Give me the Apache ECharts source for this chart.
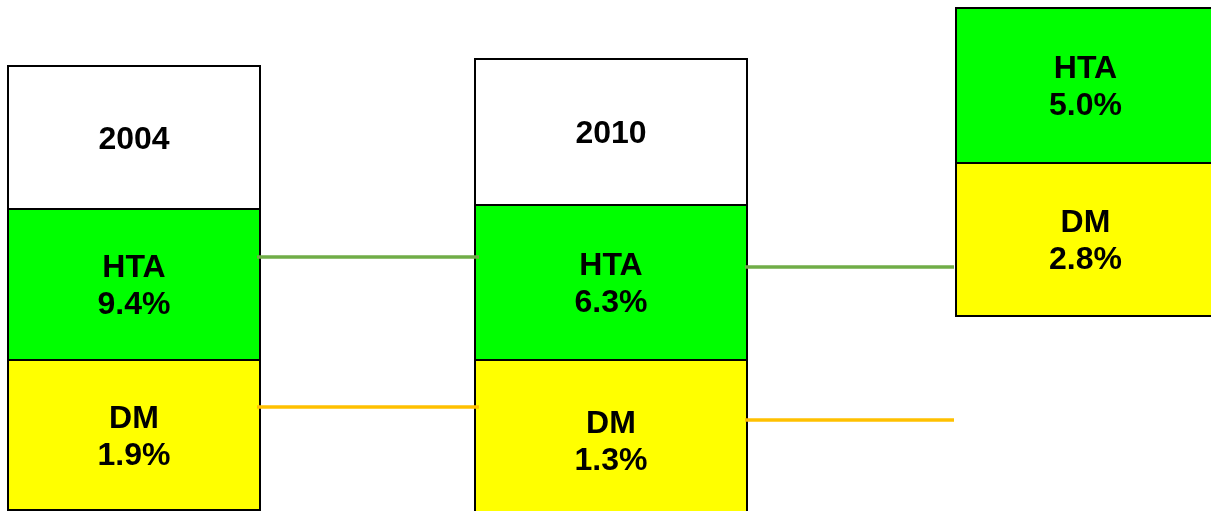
<!DOCTYPE html>
<html>
<head>
<meta charset="utf-8">
<script src="https://cdn.jsdelivr.net/npm/echarts@6/dist/echarts.min.js"></script>
<style>
  html, body { margin: 0; padding: 0; background: #fff; }
  #chart { width: 1211px; height: 511px; }
</style>
</head>
<body>
<div id="chart"></div>
<script>
// values
const years = ['2004', '2010', null];
const htaValues = [9.4, 6.3, 5.0];
const dmValues = [1.9, 1.3, 2.8];

// column layout, in axis units (axis spans the window)
const colLeft = [8, 475, 956];
const colRight = [260, 747, 1215];
const yearTop = [66, 59, null];
const htaTop = [209, 205, 8];
const dmTop = [360, 360, 163];
const dmBottom = [510, 520, 316];

// connector lines between columns
const linkFrom = [257, 745];
const linkTo = [479, 954];
const htaLinkY = [257, 267];
const dmLinkY = [407, 420];

const fills = { year: '#FFFFFF', hta: '#00FF00', dm: '#FFFF00' };

// build segments: [x0, x1, y0, y1], with kind + label kept alongside
const segments = [];
const segKind = [];
const segText = [];
for (let i = 0; i < colLeft.length; i++) {
  if (years[i]) {
    segments.push([colLeft[i], colRight[i], yearTop[i], htaTop[i]]);
    segKind.push('year');
    segText.push(years[i]);
  }
  segments.push([colLeft[i], colRight[i], htaTop[i], dmTop[i]]);
  segKind.push('hta');
  segText.push('HTA\n' + htaValues[i].toFixed(1) + '%');
  segments.push([colLeft[i], colRight[i], dmTop[i], dmBottom[i]]);
  segKind.push('dm');
  segText.push('DM\n' + dmValues[i].toFixed(1) + '%');
}

function linkSeries(ys, color) {
  return ys.map(function (y, i) {
    return {
      type: 'line',
      data: [[linkFrom[i], y], [linkTo[i], y]],
      symbol: 'none',
      silent: true,
      z: 5,
      lineStyle: { color: color, width: 3.5 }
    };
  });
}

const chart = echarts.init(document.getElementById('chart'));
const option = {
  animation: false,
  backgroundColor: '#fff',
  grid: { left: 0, right: 0, top: 0, bottom: 0 },
  xAxis: { type: 'value', min: 0, max: 1211, show: false },
  yAxis: { type: 'value', min: 0, max: 511, inverse: true, show: false },
  series: [
    {
      type: 'custom',
      clip: false,
      z: 2,
      data: segments,
      renderItem: function (params, api) {
        const p0 = api.coord([api.value(0), api.value(2)]);
        const p1 = api.coord([api.value(1), api.value(3)]);
        const i = params.dataIndex;
        return {
          type: 'group',
          children: [
            {
              type: 'rect',
              shape: { x: p0[0], y: p0[1], width: p1[0] - p0[0], height: p1[1] - p0[1] },
              style: { fill: fills[segKind[i]], stroke: '#000', lineWidth: 2 }
            },
            {
              type: 'text',
              x: (p0[0] + p1[0]) / 2,
              y: (p0[1] + p1[1]) / 2 + 2.5,
              style: {
                text: segText[i],
                fill: '#000',
                fontSize: 32,
                fontWeight: 'bold',
                fontFamily: '"Liberation Sans", Arial, sans-serif',
                lineHeight: 37,
                align: 'center',
                verticalAlign: 'middle'
              }
            }
          ]
        };
      }
    }
  ].concat(linkSeries(htaLinkY, '#70AD47'), linkSeries(dmLinkY, '#FFC000'))
};
chart.setOption(option);
</script>
</body>
</html>
